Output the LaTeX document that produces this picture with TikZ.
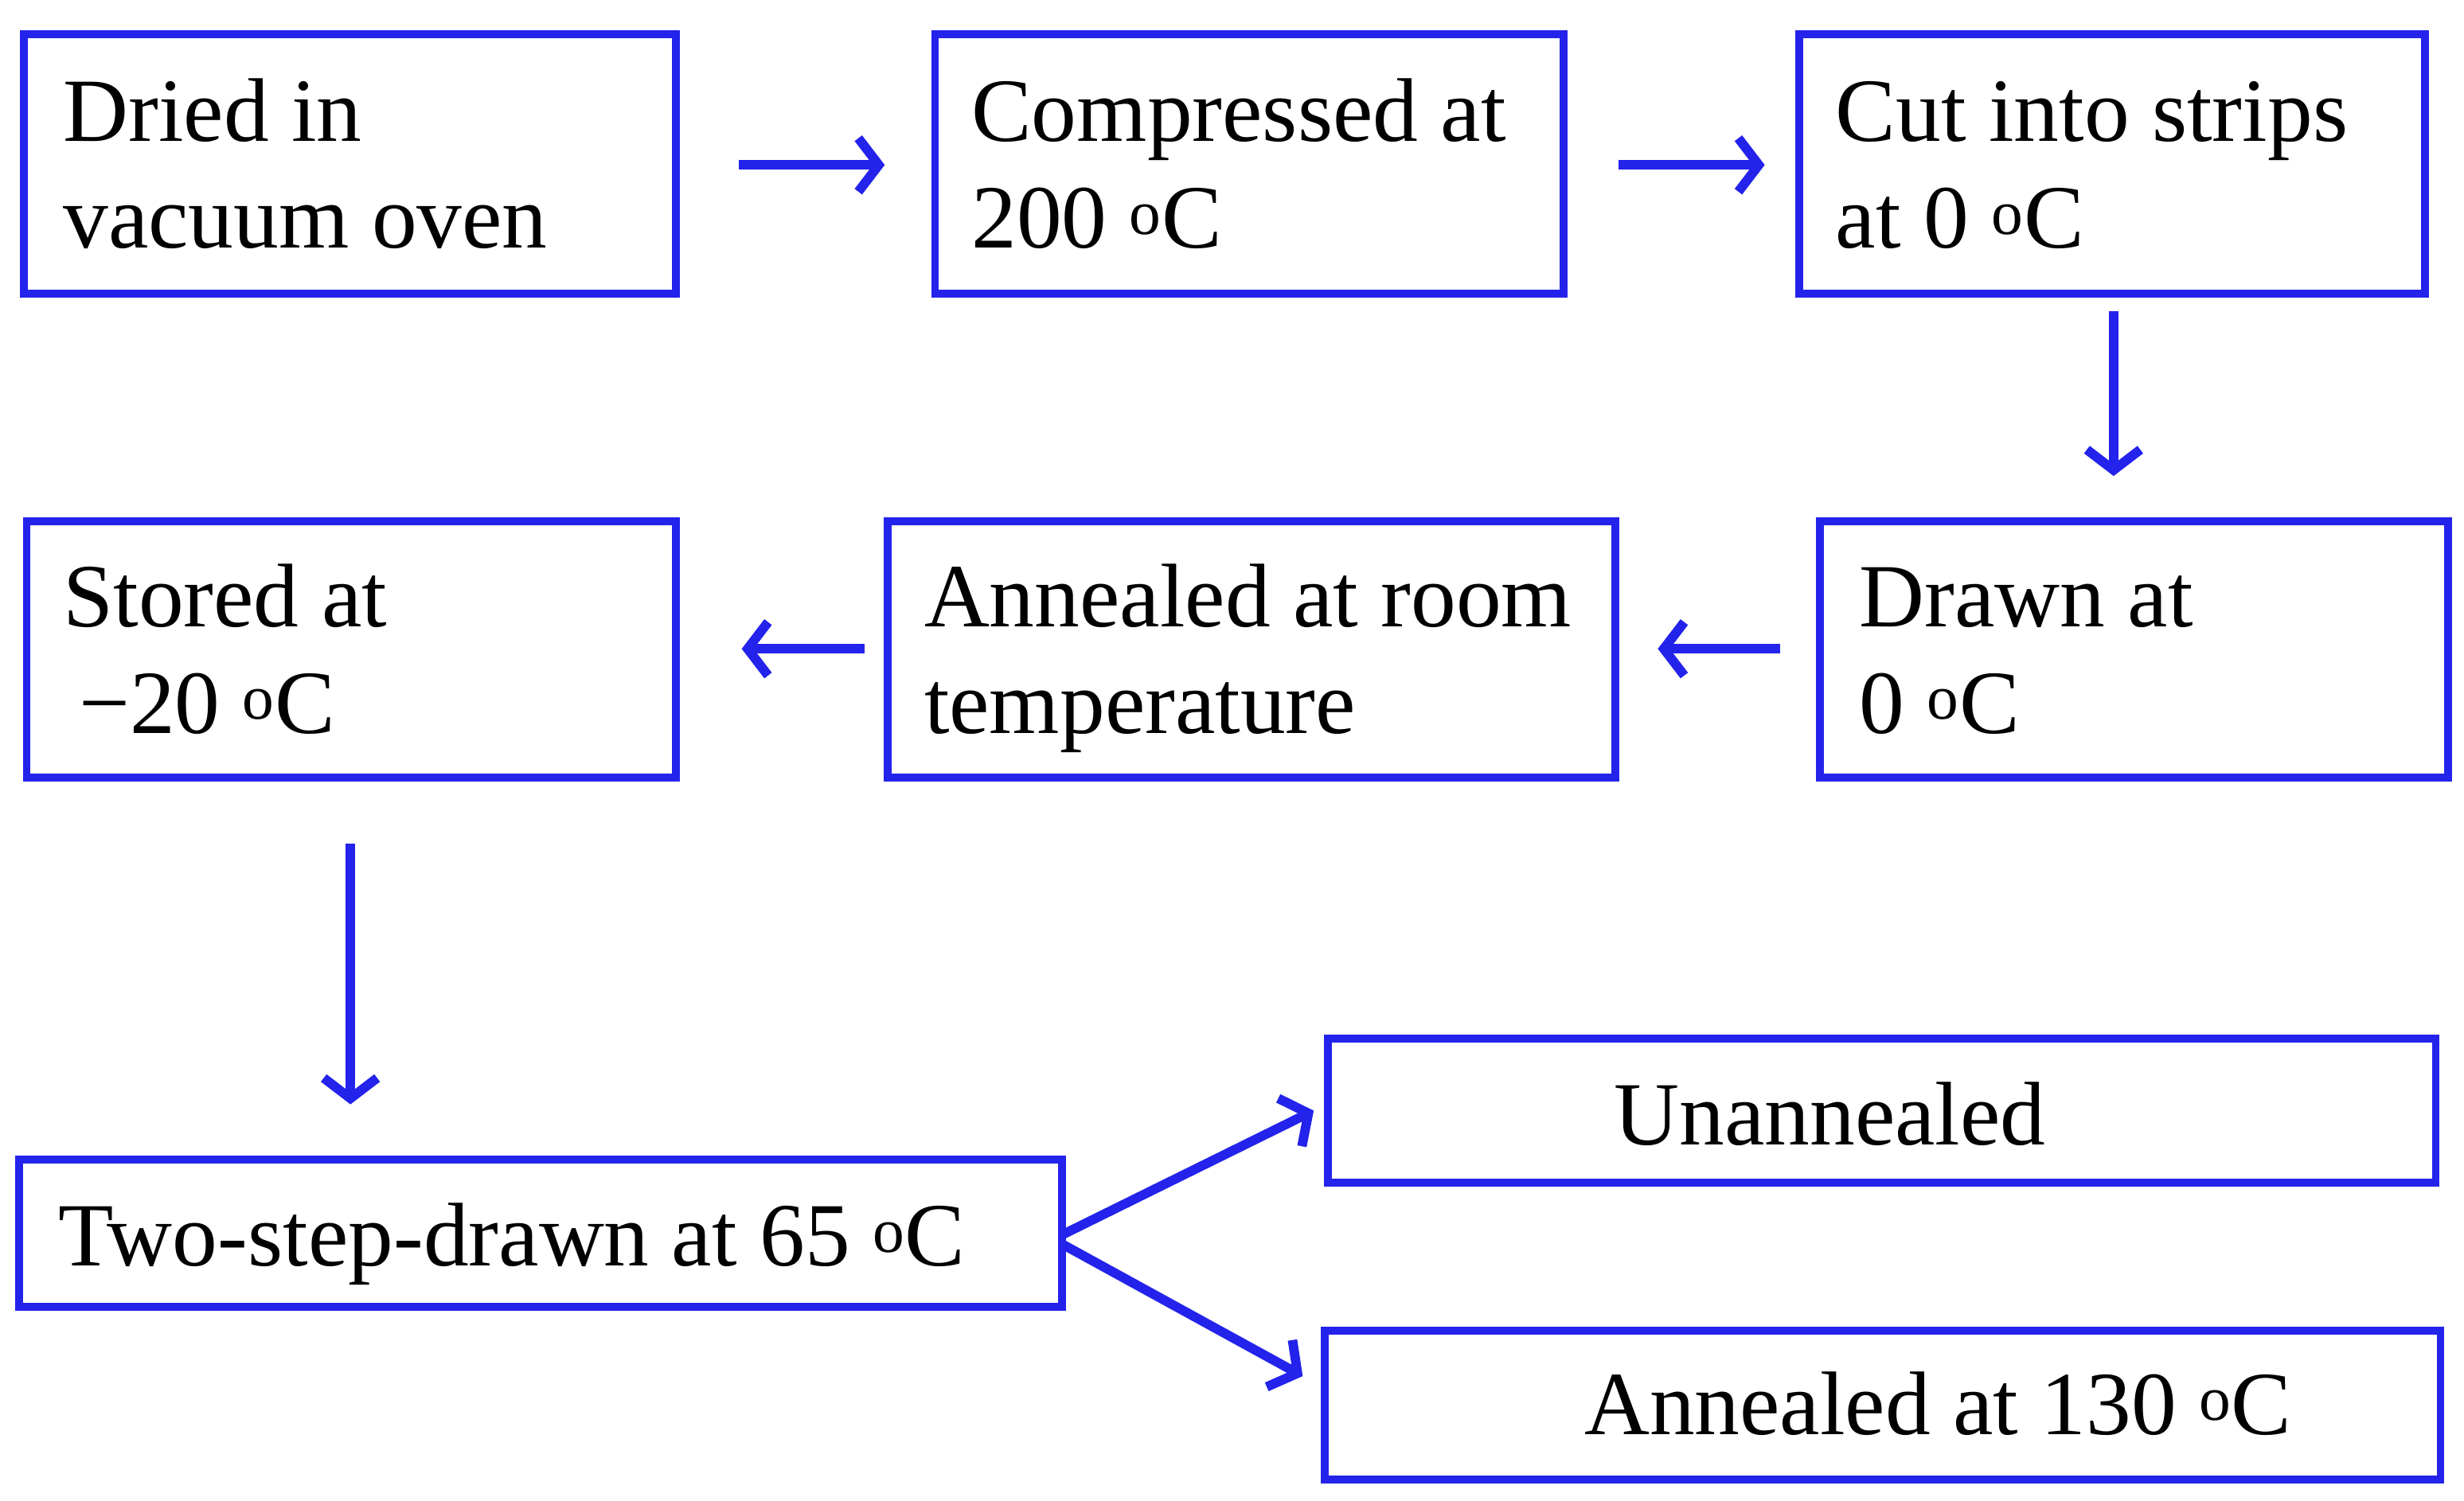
\documentclass[tikz,border=0pt]{standalone}
\usepackage{fontspec}
\setmainfont{Liberation Serif}
\usetikzlibrary{arrows.meta}
\definecolor{bl}{RGB}{35,35,235}
\begin{document}
\begin{tikzpicture}[x=1pt,y=-1pt,
 box/.style={draw=bl,line width=5pt,minimum width=#1,inner sep=0pt},
 lbl/.style={anchor=base west,inner sep=0pt,font=\fontsize{57.5}{68}\selectfont},
 arr/.style={draw=bl,line width=6pt,-{Straight Barb[length=13pt,width=34pt,line width=6pt]}}]
\useasboundingbox (0,0) rectangle (1568,955);
\newcommand{\bx}[5]{\node[box=#4-#2,minimum height=#5-#3] (#1) at ({(#2+#4)/2},{(#3+#5)/2}) {};}
\bx{b1}{15}{22}{430}{187}
\bx{b2}{595}{22}{995}{187}
\bx{b3}{1145}{22}{1543}{187}
\bx{b4}{1158}{332}{1558}{495}
\bx{b5}{565}{332}{1028}{495}
\bx{b6}{17}{332}{430}{495}
\bx{b7}{12}{738}{676}{832}
\bx{b8}{845}{661}{1550}{753}
\bx{b9}{843}{847}{1553}{942}
\node[lbl] (t1a) at (40,90) {Dried in};
\node[lbl] (t1b) at (40,158) {vacuum oven};
\node[lbl] (t2a) at (618,90) {Compressed at};
\node[lbl] (t2b) at (618,158) {200 \textsuperscript{o}C};
\node[lbl] (t3a) at (1168,90) {Cut into strips};
\node[lbl] (t3b) at (1168,158) {at 0 \textsuperscript{o}C};
\node[lbl] (t4a) at (1183,399) {Drawn at};
\node[lbl] (t4b) at (1183,467) {0 \textsuperscript{o}C};
\node[lbl] (t5a) at (588,399) {Annealed at room};
\node[lbl] (t5b) at (588,467) {temperature};
\node[lbl] (t6a) at (40,399) {Stored at};
\node[lbl] (t6b) at (50,467) {−20 \textsuperscript{o}C};
\node[lbl] (t7) at (37,806) {Two-step-drawn at 65 \textsuperscript{o}C};
\node[lbl] (t8) at (1027,729) {Unannealed};
\node[lbl] (t9) at (1008,913) {Annealed at 130 \textsuperscript{o}C};
\coordinate (a1s) at (470,105); \coordinate (a1e) at (563,105);
\coordinate (a2s) at (1030,105); \coordinate (a2e) at (1123,105);
\coordinate (a3s) at (1345,198); \coordinate (a3e) at (1345,303);
\coordinate (a4s) at (1133,413); \coordinate (a4e) at (1055,413);
\coordinate (a5s) at (550,413); \coordinate (a5e) at (472,413);
\coordinate (a6s) at (223,537); \coordinate (a6e) at (223,703);
\coordinate (a7s) at (676,786); \coordinate (a7e) at (836,707);
\coordinate (a8s) at (676,792); \coordinate (a8e) at (829,876);
\foreach \i in {1,...,8}{\draw[arr] (a\i s) -- (a\i e);}
\end{tikzpicture}
\end{document}
